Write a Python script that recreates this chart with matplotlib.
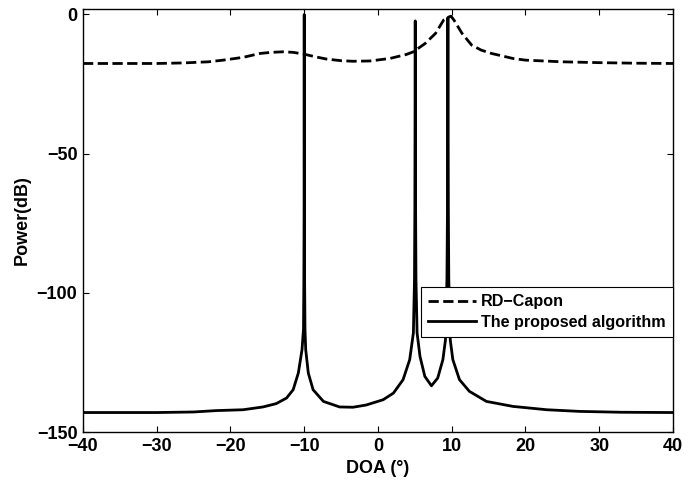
import numpy as np
import matplotlib
matplotlib.use('Agg')
import matplotlib.pyplot as plt

plt.rcParams['font.family'] = ['Liberation Sans', 'DejaVu Sans']
plt.rcParams['font.weight'] = 'bold'

# RD-Capon spectrum
capon_x = [-40, -35, -30, -26.4, -23, -21, -18.3, -16.0, -14.5, -12.8, -11.5, -10.1, -8.5,
           -7.0, -5.0, -3.4, -1.1, 1.6, 3.8, 4.8, 6.4, 7.8, 8.9, 9.6, 9.9, 10.3, 11.4,
           12.7, 14.0, 15.4, 18.3, 20, 25, 30, 35, 40]
capon_y = [-17.6, -17.6, -17.6, -17.4, -17.0, -16.4, -15.4, -14.0, -13.6, -13.4, -13.6,
           -14.2, -15.2, -16.0, -16.6, -16.8, -16.7, -15.8, -14.4, -13.4, -10.4, -6.8,
           -2.0, -0.9, -0.6, -2.0, -6.8, -11.0, -12.8, -14.0, -15.8, -16.4, -17.0, -17.3,
           -17.5, -17.6]

# proposed algorithm spectrum
prop_x = [-40, -30, -25, -21.9, -18.3, -15.6, -13.8, -12.4, -11.5, -10.8, -10.3, -10.1,
          -10.05, -10.02, -10.0, -9.98, -9.95, -9.9, -9.8, -9.45, -8.8, -7.4, -5.2, -3.4,
          -1.6, 0.7, 2.1, 3.4, 4.3, 4.8, 4.95, 5.0, 5.05, 5.1, 5.15, 5.3, 5.7, 6.35,
          7.25, 8.1, 8.8, 9.15, 9.35, 9.42, 9.48, 9.54, 9.6, 9.8, 10.15, 11.05, 12.4,
          14.7, 18.3, 22.9, 27.4, 33, 40]
prop_y = [-143.0, -143.0, -142.8, -142.3, -142.0, -141.0, -139.8, -137.8, -134.8, -128.8,
          -120.4, -113.0, -95, -70, 0, -70, -95, -113.0, -120.4, -128.8, -134.8, -139.0,
          -141.0, -141.1, -140.3, -138.4, -136.0, -131.2, -124.0, -114.4, -95, -70, -2.3,
          -70, -95, -114.4, -122.9, -130.0, -133.4, -130.6, -124.0, -116.9, -95, -70,
          -1.1, -70, -95, -116.9, -124.0, -131.2, -135.4, -139.0, -140.8, -142.0, -142.6,
          -142.9, -143.0]

fig = plt.figure(figsize=(6.87, 4.96), dpi=100)
ax = fig.add_axes([0.1208, 0.129, 0.8588, 0.853])

ax.plot(capon_x, capon_y, 'k--', lw=2, label='RD\u2212Capon')
ax.plot(prop_x, prop_y, 'k-', lw=2, label='The proposed algorithm')

ax.set_xlim(-40, 40)
ax.set_ylim(-150, 2)
ax.set_xticks(np.arange(-40, 41, 10))
ax.set_yticks([-150, -100, -50, 0])
ax.tick_params(direction='in', top=True, right=True, length=4, width=0.8,
               labelsize=13, pad=4)
for s in ax.spines.values():
    s.set_linewidth(1.0)

ax.set_xlabel('DOA (\u00b0)', fontsize=13, fontweight='bold', labelpad=4)
ax.set_ylabel('Power(dB)', fontsize=13, fontweight='bold', labelpad=4)

leg = ax.legend(loc='upper right', bbox_to_anchor=(1.0, 0.343), borderaxespad=0,
                fontsize=11.6, fancybox=False, edgecolor='black', framealpha=1,
                handlelength=3.0, handletextpad=0.3, borderpad=0.45, labelspacing=0.35)
leg.get_frame().set_linewidth(0.8)

fig.savefig('out.png', dpi=100)
